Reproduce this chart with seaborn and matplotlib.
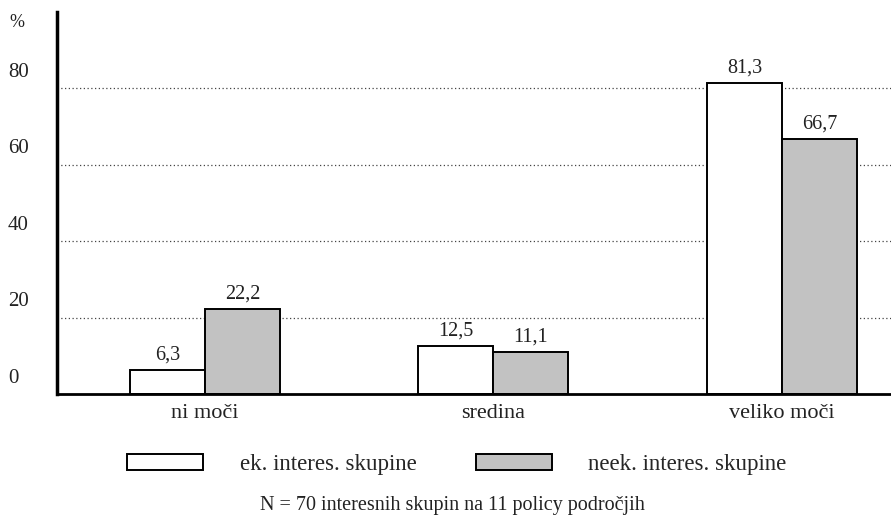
import pandas as pd
import matplotlib.pyplot as plt
import matplotlib.transforms as mtransforms
import seaborn as sns

# values
categories = ["ni moči", "sredina", "veliko moči"]
series_names = ["ek. interes. skupine", "neek. interes. skupine"]
ek_values = [6.3, 12.5, 81.3]
neek_values = [22.2, 11.1, 66.7]
y_ticks = [0, 20, 40, 60, 80]
caption = "N = 70 interesnih skupin na 11 policy področjih"

df = pd.DataFrame({
    "kategorija": categories * 2,
    "skupina": [series_names[0]] * 3 + [series_names[1]] * 3,
    "odstotek": ek_values + neek_values,
})

sns.set_style("white")
plt.rcParams["font.family"] = ["Liberation Serif", "DejaVu Serif"]

fig = plt.figure(figsize=(8.91, 5.24), dpi=100)
ax = fig.add_axes([0.064, 0.248, 0.936, 0.729])

sns.barplot(data=df, x="kategorija", y="odstotek", hue="skupina",
            palette=["white", "#c2c2c2"], edgecolor="black", linewidth=1.4,
            width=0.52, gap=0, ax=ax)

ax.set_xlim(-0.513, 2.378)
ax.set_ylim(0, 100)

# dotted grid lines
for t in y_ticks[1:]:
    ax.axhline(t, color="#444444", linestyle=(0, (1, 2)), linewidth=0.9, zorder=0)

# value labels with decimal comma
for cont in ax.containers:
    labels = [f"{b.get_height():.1f}".replace(".", ",") for b in cont]
    ax.bar_label(cont, labels=labels, padding=4, fontsize=14.5, color="#222222")

# y labels sit a bit above their grid lines, as in the print
trans = mtransforms.blended_transform_factory(fig.transFigure, ax.transData)
shift = mtransforms.ScaledTranslation(0, 16 / 100, fig.dpi_scale_trans)
for t in y_ticks:
    ax.text(8 / 891, t, str(t), transform=trans + shift, ha="left", va="center",
            fontsize=15, color="#222222")
ax.text(9 / 891, 97.3, "%", transform=trans, ha="left", va="center",
        fontsize=13, color="#222222")
ax.set_yticks([])

ax.set_xlabel("")
ax.set_ylabel("")
ax.tick_params(axis="x", length=0, pad=7, labelsize=16, labelcolor="#222222")

sns.despine(ax=ax, top=True, right=True)
ax.spines["left"].set_linewidth(2.5)
ax.spines["bottom"].set_linewidth(2)
ax.spines["left"].set_color("black")
ax.spines["bottom"].set_color("black")

sns.move_legend(ax, "center", bbox_to_anchor=(0.513, 0.114),
                bbox_transform=fig.transFigure, ncol=2, frameon=False,
                title=None, fontsize=16.5, handlelength=3.3, handleheight=0.7,
                handletextpad=1.6, columnspacing=2.6)

fig.text(0.508, 0.036, caption, ha="center", va="center", fontsize=14.5,
         color="#222222")

fig.savefig("out.png", dpi=100)
